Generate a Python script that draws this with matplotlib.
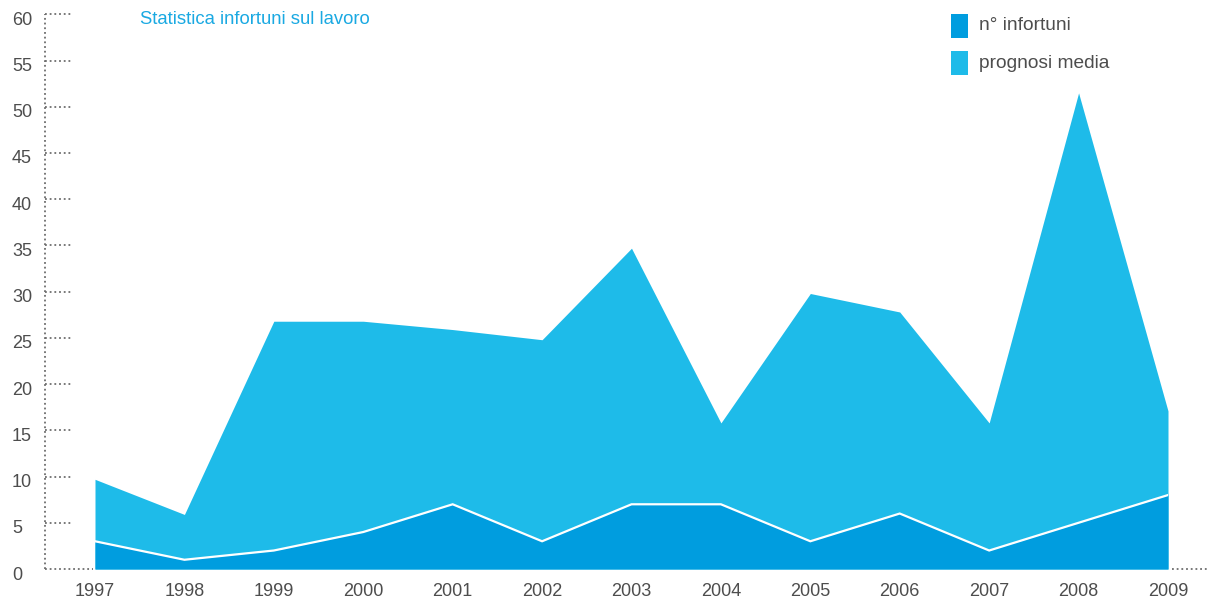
import matplotlib
matplotlib.use('Agg')
import matplotlib.pyplot as plt
import matplotlib.transforms as mtransforms
from matplotlib.patches import Rectangle

# data
years = [1997, 1998, 1999, 2000, 2001, 2002, 2003, 2004, 2005, 2006, 2007, 2008, 2009]
n_infortuni = [3, 1, 2, 4, 7, 3, 7, 7, 3, 6, 2, 5, 8]
prognosi_media = [9.7, 5.9, 26.8, 26.8, 25.9, 24.8, 34.7, 15.8, 29.8, 27.8, 15.8, 51.5, 17.1]
y_ticks = [0, 5, 10, 15, 20, 25, 30, 35, 40, 45, 50, 55, 60]

dark_blue = '#009ddf'
light_blue = '#1ebbe9'
title_blue = '#1aa9e2'
text_grey = '#4d4d4d'
dot_grey = '#6d6d6d'

plt.rcParams['font.family'] = ['Liberation Sans', 'DejaVu Sans']

W, H = 1208, 602
fig = plt.figure(figsize=(W / 100, H / 100), dpi=100)
# pixel frame: 1997 at x=95, 2009 at x=1168, y=0 at 569, y=60 at 14.3
ax = fig.add_axes([95 / W, (H - 569) / H, (1168 - 95) / W, (569 - 14.3) / H])
ax.set_xlim(years[0], years[-1])
ax.set_ylim(0, 60)
ax.axis('off')

# areas
ax.fill_between(years, 0, prognosi_media, color=light_blue, linewidth=0)
ax.fill_between(years, 0, n_infortuni, color=dark_blue, linewidth=0)
ax.plot(years, n_infortuni, color='white', linewidth=1.6, solid_joinstyle='miter')

# dotted axis and ticks, placed in pixels
px = mtransforms.blended_transform_factory(mtransforms.IdentityTransform(), ax.transData)
dot = dict(color=dot_grey, linestyle=(0, (1, 1.6)), linewidth=1.3, clip_on=False)
ax.plot([45, 45], [0, 60], transform=px, **dot)
for t in y_ticks:
    if t == 0:
        ax.plot([45, 93], [0, 0], transform=px, **dot)
    else:
        ax.plot([45, 71], [t, t], transform=px, **dot)
    ax.text(12, t, str(t), transform=px + mtransforms.ScaledTranslation(0, -6 / 100, fig.dpi_scale_trans),
            ha='left', va='center', fontsize=13, color=text_grey)
ax.plot([1172, 1208], [0, 0], transform=px, **dot)

# x labels
for y in years:
    ax.text(y, 0, str(y), transform=ax.transData + mtransforms.ScaledTranslation(0, -22 / 100, fig.dpi_scale_trans),
            ha='center', va='center', fontsize=13, color=text_grey)

# title
fig.text(140 / W, 1 - 19 / H, 'Statistica infortuni sul lavoro', ha='left', va='center',
         fontsize=13.3, color=title_blue)

# legend
legend_items = [('n° infortuni', dark_blue), ('prognosi media', light_blue)]
for i, (label, col) in enumerate(legend_items):
    top = 14 + i * 37
    fig.patches.append(Rectangle((951 / W, 1 - (top + 24) / H), 17 / W, 24 / H,
                                 transform=fig.transFigure, color=col, linewidth=0))
    fig.text(979 / W, 1 - (top + 12) / H, label, ha='left', va='center',
             fontsize=13.8, color=text_grey)

fig.savefig('out.png', dpi=100)
